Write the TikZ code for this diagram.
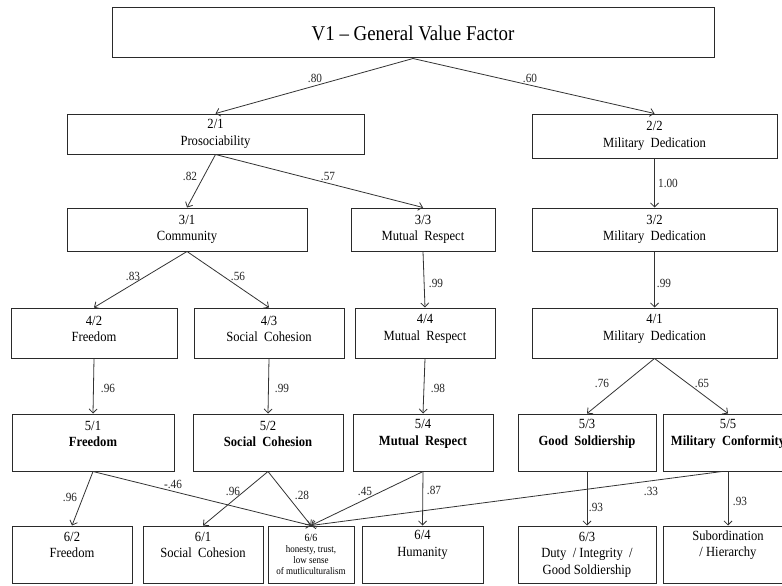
\documentclass[tikz,border=0pt]{standalone}
\usepackage{fontspec}
\setmainfont[FakeStretch=0.9]{Liberation Serif}
\usetikzlibrary{arrows.meta}
\definecolor{boxc}{HTML}{2A2A2A}
\definecolor{linec}{HTML}{333333}
\newcommand\bt[4]{\parbox[c][#2pt][c]{#1pt}{\centering #4\par\vspace*{#3pt}}}
\tikzset{
  box/.style={draw=boxc, line width=1pt, inner sep=0pt, font=\fontsize{14}{16.5}\selectfont},
  lbl/.style={font=\fontsize{12.5}{14}\selectfont, inner sep=0pt, text=black!85},
  arr/.style={draw=linec, line width=0.8pt, -{Straight Barb[length=4pt,width=8pt]}}
}
\begin{document}
\begin{tikzpicture}[x=1pt, y=-1pt]
\useasboundingbox (0,0) rectangle (782,586);
\clip (0,0) rectangle (782,586);
\fill[white] (0,0) rectangle (782,586);
% row 1
\node[box] (top) at (413,33) {\bt{602}{50}{0}{\fontsize{21}{24}\selectfont V1 -- General Value Factor}};
% row 2
\node[box] (n21) at (215.5,134) {\bt{297}{40}{0}{2/1\\Prosociability}};
\node[box] (n22) at (654.5,136) {\bt{245}{44}{0}{2/2\\Military\ \ Dedication}};
% row 3
\node[box] (n31) at (187,229.5) {\bt{240}{43}{0}{3/1\\Community}};
\node[box] (n33) at (423,229.5) {\bt{144}{43}{0}{3/3\\Mutual\ \ Respect}};
\node[box] (n32) at (654.5,229.5) {\bt{245}{43}{0}{3/2\\Military\ \ Dedication}};
% row 4
\node[box] (n42) at (94,333) {\bt{166}{50}{8}{4/2\\Freedom}};
\node[box] (n43) at (269,333) {\bt{150}{50}{8}{4/3\\Social\ \ Cohesion}};
\node[box] (n44) at (425,333) {\bt{140}{50}{8}{4/4\\Mutual\ \ Respect}};
\node[box] (n41) at (654.5,333) {\bt{245}{50}{8}{4/1\\Military\ \ Dedication}};
% row 5
\node[box] (n51) at (93,442.5) {\bt{162}{57}{17}{5/1\\\textbf{Freedom}}};
\node[box] (n52) at (268,442.5) {\bt{150}{57}{17}{5/2\\\textbf{Social\ \ Cohesion}}};
\node[box] (n54) at (423,442.5) {\bt{140}{57}{17}{5/4\\\textbf{Mutual\ \ Respect}}};
\node[box] (n53) at (587,442.5) {\bt{138}{57}{17}{5/3\\\textbf{Good\ \ Soldiership}}};
\node[box] (n55) at (728,442.5) {\bt{130}{57}{17}{5/5\\\textbf{Military\ \ Conformity}}};
% row 6
\node[box] (n62) at (72,554.5) {\bt{120}{57}{19}{6/2\\Freedom}};
\node[box] (n61) at (203,554.5) {\bt{120}{57}{19}{6/1\\Social\ \ Cohesion}};
\node[box] (n66) at (311,554.5) {\bt{86}{57}{0}{\fontsize{10}{10.8}\selectfont{\fontsize{11}{11}\selectfont 6/6}\\honesty, trust,\\low sense\\of mutliculturalism}};
\node[box] (n64) at (422.5,554.5) {\bt{121}{57}{19}{6/4\\Humanity}};
\node[box] (n63) at (587,554.5) {\bt{138}{57}{0}{6/3\\Duty\ \ /\ Integrity\ \ /\\Good Soldiership}};
\node[box] (nsub) at (728,554.5) {\bt{130}{57}{19}{Subordination\\/ Hierarchy}};
% connectors
\draw[arr] (top.south) -- (n21.north);
\draw[arr] (top.south) -- (n22.north);
\draw[arr] (n21.south) -- (n31.north);
\draw[arr] (n21.south) -- (n33.north);
\draw[arr] (n22.south) -- (n32.north);
\draw[arr] (n31.south) -- (n42.north);
\draw[arr] (n31.south) -- (n43.north);
\draw[arr] (n33.south) -- (n44.north);
\draw[arr] (n32.south) -- (n41.north);
\draw[arr] (n42.south) -- (n51.north);
\draw[arr] (n43.south) -- (n52.north);
\draw[arr] (n44.south) -- (n54.north);
\draw[arr] (n41.south) -- (n53.north);
\draw[arr] (n41.south) -- (n55.north);
\draw[arr] (n51.south) -- (n62.north);
\draw[arr] (n51.south) -- (n66.north);
\draw[arr] (n52.south) -- (n61.north);
\draw[arr] (n52.south) -- (n66.north);
\draw[arr] (n54.south) -- (n66.north);
\draw[arr] (n54.south) -- (n64.north);
\draw[arr] ([xshift=-6pt]n55.south) -- (n66.north);
\draw[arr] (n53.south) -- (n63.north);
\draw[arr] (n55.south) -- (nsub.north);
% labels
\node[lbl] (l1) at (315,78) {.80};
\node[lbl] (l2) at (530,78) {.60};
\node[lbl] (l3) at (190,176) {.82};
\node[lbl] (l4) at (328,176) {.57};
\node[lbl] (l5) at (668,183) {1.00};
\node[lbl] (l6) at (133,276) {.83};
\node[lbl] (l7) at (238,276) {.56};
\node[lbl] (l8) at (436,283) {.99};
\node[lbl] (l9) at (664,283) {.99};
\node[lbl] (l10) at (108,388) {.96};
\node[lbl] (l11) at (282,388) {.99};
\node[lbl] (l12) at (438,388) {.98};
\node[lbl] (l13) at (602,383) {.76};
\node[lbl] (l14) at (702,383) {.65};
\node[lbl] (l15) at (70,497) {.96};
\node[lbl] (l16) at (173,484) {-.46};
\node[lbl] (l17) at (233,491) {.96};
\node[lbl] (l18) at (302,495) {.28};
\node[lbl] (l19) at (365,491) {.45};
\node[lbl] (l20) at (434,490) {.87};
\node[lbl] (l21) at (651,491) {.33};
\node[lbl] (l22) at (596,507) {.93};
\node[lbl] (l23) at (740,501) {.93};
\end{tikzpicture}
\end{document}
